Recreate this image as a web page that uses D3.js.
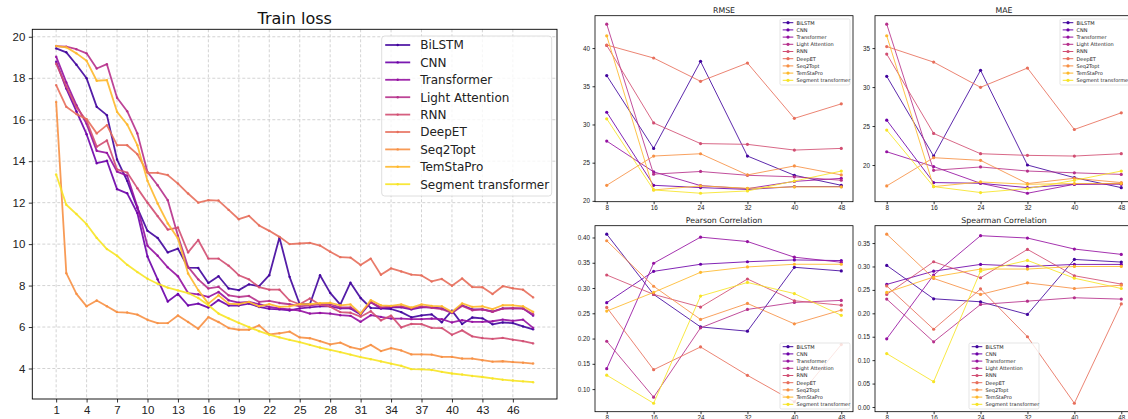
<!DOCTYPE html>
<html>
<head>
<meta charset="utf-8">
<script src="https://cdn.jsdelivr.net/npm/d3@7"></script>
<style>
  body { margin: 0; background: #fff; }
  svg { display: block; font-family: "DejaVu Sans", sans-serif; }
</style>
</head>
<body>
<div id="chart"></div>
<script>
// model names (legend order)
var models = ["BiLSTM", "CNN", "Transformer", "Light Attention", "RNN", "DeepET", "Seq2Topt", "TemStaPro", "Segment transformer"];

// train loss per epoch
var epochs = [1, 2, 3, 4, 5, 6, 7, 8, 9, 10, 11, 12, 13, 14, 15, 16, 17, 18, 19, 20, 21, 22, 23, 24,
              25, 26, 27, 28, 29, 30, 31, 32, 33, 34, 35, 36, 37, 38, 39, 40, 41, 42, 43, 44, 45, 46, 47, 48];
var bilstmLoss = [19.44, 19.25, 18.65, 18.0, 16.62, 16.22, 14.08, 13.05, 11.75, 10.64, 10.3, 9.6, 9.78, 8.87, 8.85, 8.13, 8.45, 7.86, 7.78, 8.06, 7.97, 8.5, 10.32, 8.42,
                  7.1, 7.1, 8.5, 7.65, 7.08, 8.14, 7.4, 6.92, 6.9, 6.87, 6.72, 6.47, 6.56, 6.61, 6.23, 6.79, 6.15, 6.46, 6.42, 6.13, 6.22, 6.19, 6.03, 5.89];
var cnnLoss = [18.8, 17.5, 16.4, 15.3, 13.9, 14.02, 12.65, 12.45, 11.5, 9.4, 8.3, 7.23, 7.6, 7.04, 7.13, 6.94, 7.3, 7.04, 7.04, 7.13, 6.97, 6.88, 6.85, 6.8,
               6.9, 6.95, 7.0, 7.0, 6.9, 6.9, 6.6, 7.2, 6.9, 6.95, 6.95, 6.85, 6.95, 6.95, 6.9, 6.7, 7.05, 6.85, 6.85, 6.75, 6.9, 6.9, 6.9, 6.55];
var transformerLoss = [19.04, 17.8, 16.7, 15.8, 14.5, 14.4, 13.5, 13.3, 11.8, 9.92, 9.44, 8.88, 8.45, 7.64, 7.58, 7.45, 7.69, 7.29, 7.18, 7.21, 7.1, 6.97, 6.9, 6.85,
                       6.79, 6.65, 6.68, 6.65, 6.57, 6.54, 6.25, 6.57, 6.49, 6.41, 6.41, 6.38, 6.38, 6.41, 6.38, 6.22, 6.33, 6.25, 6.25, 6.28, 6.36, 6.3, 6.36, 5.96];
var lightAttnLoss = [19.55, 19.52, 19.4, 19.2, 18.47, 18.68, 17.06, 16.41, 15.34, 13.48, 12.84, 12.12, 10.4, 8.9, 8.3, 7.86, 7.94, 7.53, 7.45, 7.5, 7.21, 7.26, 7.16, 7.1,
                     7.0, 7.05, 7.1, 7.1, 6.95, 6.95, 6.65, 7.2, 6.95, 7.0, 7.0, 6.9, 7.0, 6.93, 6.86, 6.68, 7.02, 6.81, 6.85, 6.73, 6.89, 6.91, 6.89, 6.62];
var rnnLoss = [18.7, 17.6, 16.6, 15.95, 14.7, 15.0, 13.6, 13.45, 12.7, 12.0, 11.35, 10.7, 10.8, 9.6, 10.2, 9.3, 9.3, 8.96, 8.5, 8.3, 7.92, 7.8, 7.8, 7.28,
               7.1, 7.38, 7.08, 6.98, 6.72, 6.69, 6.5, 6.76, 6.32, 6.55, 5.98, 6.15, 6.14, 5.96, 5.95, 5.63, 5.84, 5.55, 5.47, 5.43, 5.48, 5.39, 5.32, 5.21];
var deepetLoss = [17.67, 16.62, 16.27, 16.03, 15.34, 15.74, 14.77, 14.77, 14.34, 13.44, 13.44, 13.33, 12.92, 12.44, 12.0, 12.12, 12.1, 11.65, 11.2, 11.36, 10.9, 10.64, 10.35, 10.0,
                  10.03, 10.06, 9.93, 9.63, 9.37, 9.35, 8.99, 9.3, 8.52, 8.83, 8.68, 8.53, 8.49, 8.2, 8.32, 7.99, 8.34, 7.93, 7.92, 7.59, 7.97, 7.87, 7.8, 7.43];
var seq2toptLoss = [16.86, 8.6, 7.6, 7.0, 7.28, 7.0, 6.72, 6.7, 6.6, 6.35, 6.19, 6.19, 6.56, 6.24, 5.92, 6.48, 6.24, 5.95, 5.87, 5.87, 6.08, 5.65, 5.7, 5.78,
                    5.5, 5.46, 5.32, 5.16, 5.25, 5.03, 4.92, 5.14, 4.84, 4.98, 4.87, 4.68, 4.68, 4.67, 4.56, 4.56, 4.48, 4.48, 4.4, 4.33, 4.35, 4.31, 4.28, 4.24];
var temstaproLoss = [19.55, 19.49, 19.2, 18.84, 17.88, 17.91, 16.38, 15.77, 14.77, 13.05, 11.96, 11.0, 10.27, 8.58, 7.78, 7.13, 7.53, 7.13, 7.1, 7.21, 7.0, 7.1, 6.97, 7.0,
                     7.1, 7.1, 7.15, 7.17, 7.05, 7.09, 6.65, 7.3, 7.05, 7.02, 7.09, 6.94, 7.09, 7.02, 7.0, 6.73, 7.14, 6.97, 7.0, 6.86, 7.05, 7.05, 7.0, 6.73];
var segmentLoss = [13.36, 11.9, 11.45, 10.96, 10.3, 9.76, 9.44, 9.0, 8.65, 8.33, 8.09, 7.9, 7.77, 7.64, 7.4, 7.05, 6.65, 6.42, 6.2, 6.0, 5.8, 5.63, 5.5, 5.38,
                   5.27, 5.14, 5.01, 4.9, 4.79, 4.67, 4.55, 4.45, 4.34, 4.23, 4.13, 3.97, 3.96, 3.93, 3.84, 3.76, 3.71, 3.64, 3.59, 3.52, 3.46, 3.42, 3.38, 3.34];
var lossSeries = [bilstmLoss, cnnLoss, transformerLoss, lightAttnLoss, rnnLoss, deepetLoss, seq2toptLoss, temstaproLoss, segmentLoss];
var epochTicks = [1, 4, 7, 10, 13, 16, 19, 22, 25, 28, 31, 34, 37, 40, 43, 46];
var lossTicks = [4, 6, 8, 10, 12, 14, 16, 18, 20];

// test metrics per checkpoint, one row per model (same order as models)
var steps = [8, 16, 24, 32, 40, 48];
var rmseValues = [
  [36.4, 26.87, 38.26, 25.87, 23.35, 22.04],
  [31.6, 22.04, 21.74, 21.5, 21.87, 21.87],
  [27.83, 23.8, 22.0, 21.6, 22.55, 22.95],
  [43.13, 23.5, 23.85, 23.35, 23.15, 22.7],
  [40.35, 30.2, 27.5, 27.4, 26.65, 26.87],
  [40.4, 38.7, 35.65, 38.04, 30.8, 32.7],
  [22.04, 25.87, 26.17, 23.4, 24.57, 23.4],
  [41.6, 21.43, 21.96, 21.65, 21.83, 21.83],
  [30.74, 21.43, 21.0, 21.3, 22.6, 23.9]
];
var maeValues = [
  [31.38, 21.15, 32.15, 20.0, 18.38, 17.1],
  [25.75, 17.75, 17.66, 17.1, 17.53, 17.66],
  [21.7, 19.8, 17.66, 16.38, 17.53, 17.53],
  [38.07, 19.32, 19.75, 19.23, 19.0, 18.8],
  [34.23, 24.05, 21.45, 21.24, 21.15, 21.45],
  [35.2, 33.2, 29.97, 32.44, 24.56, 26.7],
  [17.32, 20.94, 20.6, 17.62, 18.3, 17.75],
  [36.58, 17.23, 17.83, 17.53, 17.62, 17.62],
  [24.48, 17.23, 16.47, 16.98, 18.04, 19.23]
];
var pearsonValues = [
  [0.4066, 0.2874, 0.223, 0.2146, 0.341, 0.3338],
  [0.271, 0.333, 0.347, 0.352, 0.3556, 0.3543],
  [0.1404, 0.349, 0.4007, 0.392, 0.361, 0.351],
  [0.1947, 0.084, 0.2212, 0.2576, 0.2715, 0.2755],
  [0.3258, 0.2874, 0.2623, 0.3179, 0.2748, 0.266],
  [0.2616, 0.1384, 0.1834, 0.1272, 0.075, 0.188],
  [0.3935, 0.3035, 0.2378, 0.2695, 0.2291, 0.2563],
  [0.2543, 0.2914, 0.3311, 0.3417, 0.347, 0.347],
  [0.1275, 0.072, 0.284, 0.311, 0.289, 0.246]
];
var spearmanValues = [
  [0.3023, 0.231, 0.2246, 0.1976, 0.315, 0.3094],
  [0.2617, 0.29, 0.3044, 0.3, 0.3044, 0.3044],
  [0.1456, 0.2816, 0.3657, 0.3607, 0.3372, 0.3258],
  [0.2303, 0.1392, 0.2189, 0.226, 0.2332, 0.2303],
  [0.2403, 0.3101, 0.2759, 0.3365, 0.2802, 0.2624],
  [0.2585, 0.166, 0.252, 0.15, 0.008, 0.22],
  [0.369, 0.2745, 0.2403, 0.265, 0.253, 0.26],
  [0.2445, 0.2775, 0.2945, 0.2945, 0.3, 0.3],
  [0.114, 0.054, 0.29, 0.313, 0.275, 0.253]
];
var rmseTicks = [20, 25, 30, 35, 40];
var maeTicks = [20, 25, 30, 35];
var pearsonTicks = [0.10, 0.15, 0.20, 0.25, 0.30, 0.35, 0.40];
var spearmanTicks = [0.00, 0.05, 0.10, 0.15, 0.20, 0.25, 0.30, 0.35];

// plasma colours, one per model
var colors = models.map(function(m, i) { return d3.interpolatePlasma(0.1 + i * 0.85 / 8); });

var svg = d3.select("#chart").append("svg")
    .attr("width", 1128)
    .attr("height", 419);

// pad a domain by 5% like matplotlib
function padded(lo, hi) {
  var p = (hi - lo) * 0.05;
  return [lo - p, hi + p];
}

function styleAxis(g, size) {
  g.select(".domain").remove();
  g.selectAll(".tick line").attr("stroke", "#000").attr("stroke-width", 0.8);
  g.selectAll(".tick text").attr("fill", "#222").style("font-size", size + "px");
}

// ---------- left: train loss ----------
(function() {
  var box = {left: 32.3, top: 29.3, right: 557, bottom: 399};

  var allLoss = d3.merge(lossSeries);
  var x = d3.scaleLinear().domain(padded(1, 48)).range([box.left, box.right]);
  var y = d3.scaleLinear().domain(padded(d3.min(allLoss), d3.max(allLoss))).range([box.bottom, box.top]);

  var g = svg.append("g");

  // grid
  g.selectAll(".vgrid").data(epochTicks).enter().append("line")
      .attr("x1", function(d) { return x(d); }).attr("x2", function(d) { return x(d); })
      .attr("y1", box.top).attr("y2", box.bottom)
      .attr("stroke", "#c8c8c8").attr("stroke-width", 0.8).attr("stroke-dasharray", "3,2");
  g.selectAll(".hgrid").data(lossTicks).enter().append("line")
      .attr("y1", function(d) { return y(d); }).attr("y2", function(d) { return y(d); })
      .attr("x1", box.left).attr("x2", box.right)
      .attr("stroke", "#c8c8c8").attr("stroke-width", 0.8).attr("stroke-dasharray", "3,2");

  var line = d3.line()
      .x(function(d, i) { return x(epochs[i]); })
      .y(function(d) { return y(d); });

  lossSeries.forEach(function(s, k) {
    g.append("path")
        .datum(s)
        .attr("fill", "none")
        .attr("stroke", colors[k])
        .attr("stroke-width", 1.8)
        .attr("stroke-opacity", 0.9)
        .attr("stroke-linejoin", "round")
        .attr("d", line);
    g.selectAll(".dot" + k).data(s).enter().append("circle")
        .attr("cx", function(d, i) { return x(epochs[i]); })
        .attr("cy", function(d) { return y(d); })
        .attr("r", 1.2)
        .attr("fill", colors[k])
        .attr("fill-opacity", 0.9);
  });

  // axes
  g.append("g")
      .attr("transform", "translate(0," + box.bottom + ")")
      .call(d3.axisBottom(x).tickValues(epochTicks).tickSize(3.5).tickPadding(3.5))
      .call(styleAxis, 11.5);
  g.append("g")
      .attr("transform", "translate(" + box.left + ",0)")
      .call(d3.axisLeft(y).tickValues(lossTicks).tickSize(3.5).tickPadding(3.5))
      .call(styleAxis, 11.5);

  g.append("rect")
      .attr("x", box.left).attr("y", box.top)
      .attr("width", box.right - box.left).attr("height", box.bottom - box.top)
      .attr("fill", "none").attr("stroke", "#000").attr("stroke-width", 0.9);

  g.append("text")
      .attr("x", (box.left + box.right) / 2)
      .attr("y", 24.3)
      .attr("text-anchor", "middle")
      .style("font-size", "16px")
      .attr("fill", "#111")
      .text("Train loss");

  // legend
  var lg = g.append("g").attr("transform", "translate(381.7,36)");
  lg.append("rect")
      .attr("width", 170).attr("height", 160).attr("rx", 3)
      .attr("fill", "#fff").attr("fill-opacity", 0.8)
      .attr("stroke", "#d5d5d5").attr("stroke-width", 0.8);
  models.forEach(function(m, i) {
    var cy = 9 + i * 17.4;
    lg.append("line")
        .attr("x1", 3.5).attr("x2", 28.5).attr("y1", cy).attr("y2", cy)
        .attr("stroke", colors[i]).attr("stroke-width", 1.8).attr("stroke-opacity", 0.9);
    lg.append("circle").attr("cx", 16).attr("cy", cy).attr("r", 1.2).attr("fill", colors[i]);
    lg.append("text")
        .attr("x", 38.5).attr("y", cy + 4.3)
        .style("font-size", "12px").attr("fill", "#222")
        .text(m);
  });
})();

// ---------- right: test metric panels ----------
function drawPanel(opt) {
  var box = {left: opt.left, top: opt.top, right: opt.left + 258, bottom: opt.top + 186};
  var all = d3.merge(opt.values);
  var x = d3.scaleLinear().domain(padded(8, 48)).range([box.left, box.right]);
  var y = d3.scaleLinear().domain(padded(d3.min(all), d3.max(all))).range([box.bottom, box.top]);

  var g = svg.append("g");

  var line = d3.line()
      .x(function(d, i) { return x(steps[i]); })
      .y(function(d) { return y(d); });

  opt.values.forEach(function(s, k) {
    g.append("path")
        .datum(s)
        .attr("fill", "none")
        .attr("stroke", colors[k])
        .attr("stroke-width", 1)
        .attr("stroke-opacity", 0.85)
        .attr("d", line);
    g.selectAll(".pt" + k).data(s).enter().append("circle")
        .attr("cx", function(d, i) { return x(steps[i]); })
        .attr("cy", function(d) { return y(d); })
        .attr("r", 1.6)
        .attr("fill", colors[k]);
  });

  g.append("g")
      .attr("transform", "translate(0," + box.bottom + ")")
      .call(d3.axisBottom(x).tickValues(steps).tickSize(2.5).tickPadding(1.8))
      .call(styleAxis, 6.3);
  g.append("g")
      .attr("transform", "translate(" + box.left + ",0)")
      .call(d3.axisLeft(y).tickValues(opt.ticks).tickFormat(opt.format).tickSize(2.5).tickPadding(2.5))
      .call(styleAxis, 6.3);

  g.append("rect")
      .attr("x", box.left).attr("y", box.top)
      .attr("width", box.right - box.left).attr("height", box.bottom - box.top)
      .attr("fill", "none").attr("stroke", "#000").attr("stroke-width", 0.8);

  g.append("text")
      .attr("x", (box.left + box.right) / 2)
      .attr("y", box.top - 2.6)
      .attr("text-anchor", "middle")
      .style("font-size", "7.8px")
      .attr("fill", "#222")
      .text(opt.title);

  // legend
  var lg = g.append("g").attr("transform", "translate(" + opt.legendX + "," + opt.legendY + ")");
  lg.append("rect")
      .attr("width", 70).attr("height", 66).attr("rx", 1.5)
      .attr("fill", "#fff").attr("fill-opacity", 0.8)
      .attr("stroke", "#d5d5d5").attr("stroke-width", 0.6);
  models.forEach(function(m, i) {
    var cy = 3.7 + i * 7.2;
    lg.append("line")
        .attr("x1", 2.7).attr("x2", 13.3).attr("y1", cy).attr("y2", cy)
        .attr("stroke", colors[i]).attr("stroke-width", 1);
    lg.append("circle").attr("cx", 8).attr("cy", cy).attr("r", 1.6).attr("fill", colors[i]);
    lg.append("text")
        .attr("x", 16.5).attr("y", cy + 1.8)
        .style("font-size", "5px").attr("fill", "#222")
        .text(m);
  });
}

var intFmt = d3.format("d");
var decFmt = d3.format(".2f");

drawPanel({title: "RMSE", values: rmseValues, ticks: rmseTicks, format: intFmt,
           left: 595, top: 15.7, legendX: 780, legendY: 19});
drawPanel({title: "MAE", values: maeValues, ticks: maeTicks, format: intFmt,
           left: 875, top: 15.7, legendX: 1060, legendY: 19});
drawPanel({title: "Pearson Correlation", values: pearsonValues, ticks: pearsonTicks, format: decFmt,
           left: 595, top: 225.7, legendX: 780, legendY: 343});
drawPanel({title: "Spearman Correlation", values: spearmanValues, ticks: spearmanTicks, format: decFmt,
           left: 875, top: 225.7, legendX: 969, legendY: 343});
</script>
</body>
</html>
